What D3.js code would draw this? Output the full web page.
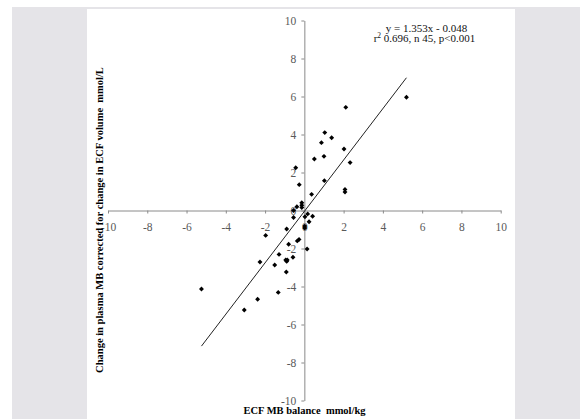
<!DOCTYPE html>
<html>
<head>
<meta charset="utf-8">
<script src="https://cdn.jsdelivr.net/npm/d3@7"></script>
<style>
  html, body { margin: 0; padding: 0; background: #ffffff; }
  svg { display: block; }
  text { white-space: pre; }
</style>
</head>
<body>
<svg id="chart" width="580" height="419"></svg>
<script>
// ---- data ----
const xValues = [5.20, 2.11, 1.04, 0.87, 1.39, 2.02, 0.51, 1.00, 2.33, -0.44, -0.26, 1.02, 2.07, 2.07, 0.37,
  -0.13, -0.13, -0.13, -0.38, -0.55,
  -0.55, 0.17, 0.42, 0.03, 0.24, 0.02, 0.02, -0.90, -1.97, -0.27, -0.36, -0.80, 0.14, -1.29, -0.58,
  -0.95, -0.87, -0.90, -2.26, -1.51, -0.92, -5.24, -1.33, -2.38, -3.06];
const yValues = [5.96, 5.43, 4.10, 3.57, 3.83, 3.24, 2.71, 2.85, 2.52, 2.25, 1.36, 1.57, 1.11, 0.97, 0.85,
  0.41, 0.28, 0.16, 0.20, 0.00,
  -0.37, -0.18, -0.30, -0.33, -0.59, -0.82, -0.92, -0.97, -1.31, -1.52, -1.60, -1.78, -2.03, -2.31, -2.46,
  -2.60, -2.60, -2.68, -2.71, -2.87, -3.24, -4.13, -4.31, -4.67, -5.24];
const xTicks = [-10, -8, -6, -4, -2, 0, 2, 4, 6, 8, 10];
const yTicks = [-10, -8, -6, -4, -2, 0, 2, 4, 6, 8, 10];
const slope = 1.353;
const intercept = -0.048;
const equationText = "y = 1.353x - 0.048";
const statsPrefix = "r";
const statsSup = "2";
const statsText = " 0.696, n 45, p<0.001";
const xTitle = "ECF MB balance  mmol/kg";
const yTitle = "Change in plasma MB corrected for change in ECF volume  mmol/L";

// ---- drawing ----
const svg = d3.select("#chart");
const serif = "'Liberation Serif', 'Times New Roman', serif";

svg.append("rect").attr("x", 0).attr("y", 0).attr("width", 580).attr("height", 419).attr("fill", "#ffffff");
svg.append("rect").attr("x", 12).attr("y", 7).attr("width", 568).attr("height", 412).attr("fill", "#e5e4e8");
svg.append("rect").attr("x", 87).attr("y", 9).attr("width", 428).attr("height", 410).attr("fill", "#ffffff");

const x = d3.scaleLinear().domain([-10, 10]).range([108, 500.7]);
const y = d3.scaleLinear().domain([-10, 10]).range([400.5, 20.5]);

const fmt = v => String(v); // hyphen-minus like the original

const xAxis = svg.append("g")
  .attr("transform", `translate(0,${y(0)})`)
  .call(d3.axisBottom(x).tickValues(xTicks).tickFormat(fmt).tickSize(3).tickSizeOuter(0).tickPadding(9));
const yAxis = svg.append("g")
  .attr("transform", `translate(${x(0)},0)`)
  .call(d3.axisLeft(y).tickValues(yTicks).tickFormat(fmt).tickSize(3).tickSizeOuter(0).tickPadding(5));

[xAxis, yAxis].forEach(g => {
  g.select(".domain").attr("stroke", "#8a8a8a").attr("stroke-width", 1);
  g.selectAll(".tick line").attr("stroke", "#8a8a8a");
  g.selectAll(".tick text").attr("fill", "#595959").attr("font-family", serif).attr("font-size", 11.5);
});

// regression line over data x-range
const xMin = d3.min(xValues), xMax = d3.max(xValues);
svg.append("line")
  .attr("x1", x(xMin)).attr("y1", y(slope * xMin + intercept))
  .attr("x2", x(xMax)).attr("y2", y(slope * xMax + intercept))
  .attr("stroke", "#222").attr("stroke-width", 1);

// points (diamond markers)
const pts = xValues.map((v, i) => [v, yValues[i]]);
svg.append("g").selectAll("path").data(pts).enter().append("path")
  .attr("d", d3.symbol().type(d3.symbolSquare).size(12))
  .attr("transform", d => `translate(${x(d[0])},${y(d[1])}) rotate(45)`)
  .attr("fill", "#000");

// annotation
svg.append("text")
  .attr("x", 426.5).attr("y", 31.5)
  .attr("text-anchor", "middle")
  .attr("font-family", serif).attr("font-size", 11).attr("fill", "#111")
  .text(equationText);
const st = svg.append("text")
  .attr("x", 424.5).attr("y", 42)
  .attr("text-anchor", "middle")
  .attr("font-family", serif).attr("font-size", 11).attr("fill", "#111");
st.append("tspan").text(statsPrefix);
st.append("tspan").attr("font-size", 7.5).attr("dy", -4).text(statsSup);
st.append("tspan").attr("dy", 4).text(statsText);

// axis titles
svg.append("text")
  .attr("x", 304.5).attr("y", 414)
  .attr("text-anchor", "middle")
  .attr("font-family", serif).attr("font-weight", "bold").attr("font-size", 10.5).attr("fill", "#000")
  .text(xTitle);
svg.append("text")
  .attr("transform", "translate(103,220) rotate(-90)")
  .attr("text-anchor", "middle")
  .attr("font-family", serif).attr("font-weight", "bold").attr("font-size", 10.5).attr("fill", "#000")
  .text(yTitle);
</script>
</body>
</html>
